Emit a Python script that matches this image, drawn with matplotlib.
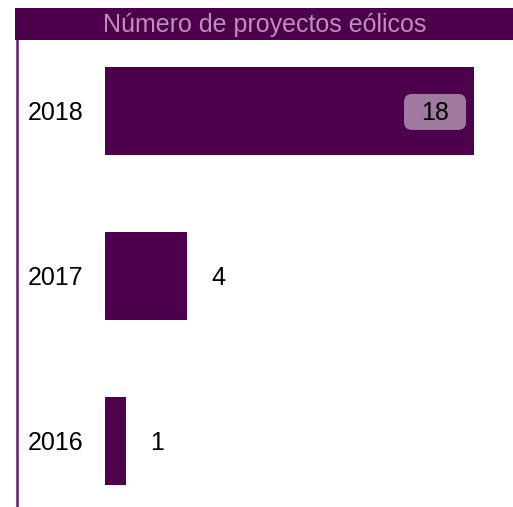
import matplotlib
matplotlib.use("Agg")
import matplotlib.pyplot as plt
from matplotlib.patches import Rectangle, FancyBboxPatch

years = ["2016", "2017", "2018"]
values = [1, 4, 18]
title = "Número de proyectos eólicos"

W, H = 513, 507
fig = plt.figure(figsize=(W / 100, H / 100), dpi=100)
plt.rcParams['font.family'] = ['Liberation Sans', 'DejaVu Sans']

bar_color = "#4d004b"

# title bar
fig.patches.append(Rectangle((15 / W, 1 - 40 / H), 1 - 15 / W, 32 / H,
                             transform=fig.transFigure, facecolor=bar_color,
                             edgecolor='none'))
fig.text((15 + W) / 2 / W + 0.5 / W, 1 - 25 / H, title, ha='center', va='center',
         color='#bd8fbd', fontsize=18)

ax = fig.add_axes([17 / W, 0, 1 - 17 / W, 1 - 40 / H])
ppu = 20.5
x0 = -(105 - 17) / ppu
ax.set_xlim(x0, x0 + (W - 17) / ppu)
ylo, yhi = -0.4, 2.43
ax.set_ylim(ylo, yhi)
ypos = list(range(len(years)))
ax.barh(ypos, values, height=0.533, color=bar_color)

for s in ['top', 'right', 'bottom']:
    ax.spines[s].set_visible(False)
ax.spines['left'].set_color('#6a1a6a')
ax.spines['left'].set_linewidth(1.8)
ax.set_xticks([])
ax.set_yticks([])

ppy = (H - 40) / (yhi - ylo)  # pixels per y unit
for y, lab, v in zip(ypos, years, values):
    ax.text(x0 + (56 - 17) / ppu, y - 0.01, lab, ha='center', va='center', fontsize=18, color='black')
    if v >= 10:
        bw, bh = 62 / ppu, 36 / ppy
        bx, by = v - 1.9 - bw / 2, y - 0.006 - bh / 2
        ax.add_patch(FancyBboxPatch((bx, by), bw, bh,
                                    boxstyle='round,pad=0,rounding_size=%f' % (8 / ppu),
                                    mutation_aspect=ppu / ppy,
                                    facecolor='#a07aa0', edgecolor='none'))
        ax.text(v - 1.9, y - 0.01, str(v), ha='center', va='center', fontsize=18, color='black')
    else:
        ax.text(v + 1.55, y - 0.01, str(v), ha='center', va='center', fontsize=18, color='black')

fig.savefig("out.png", dpi=100)
